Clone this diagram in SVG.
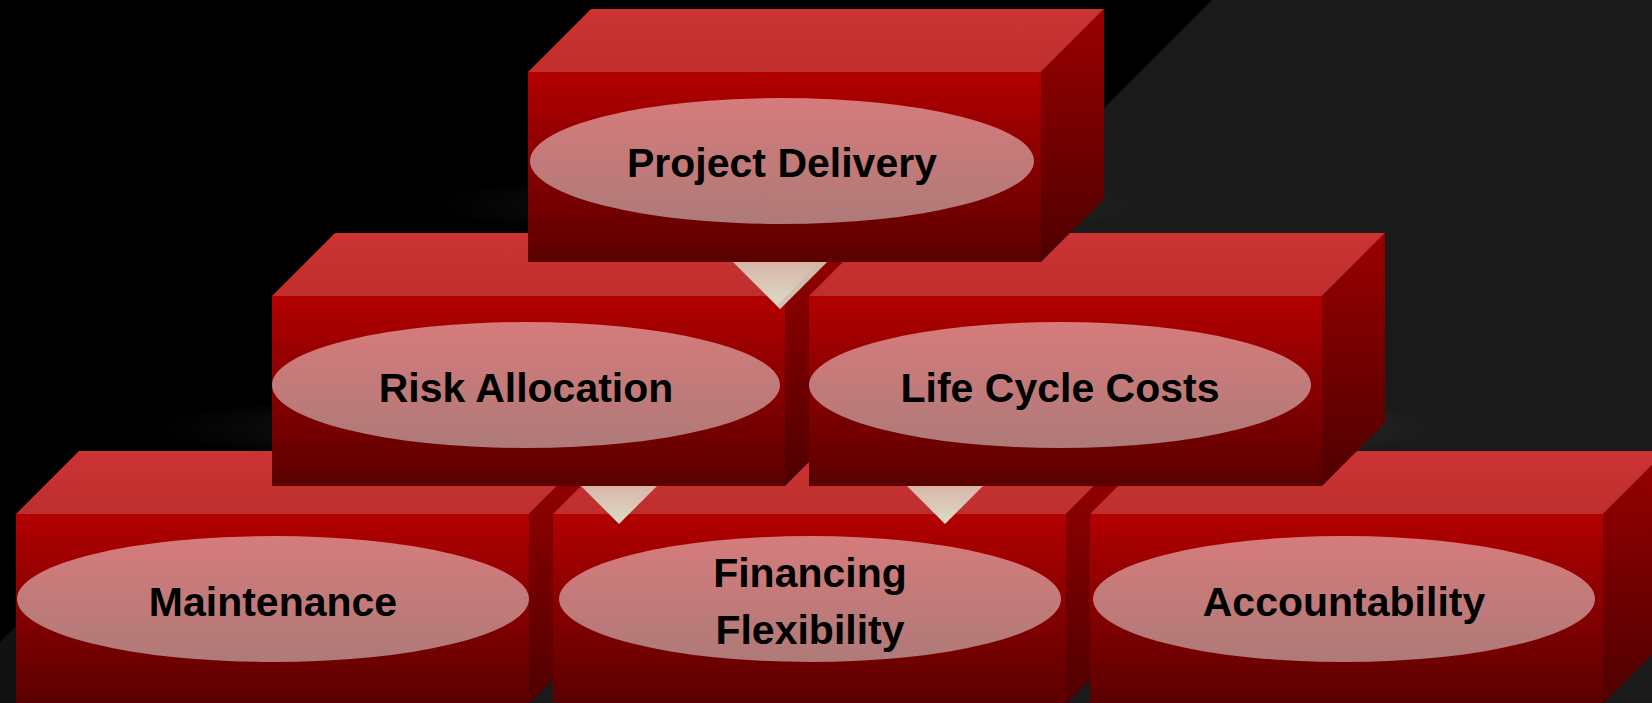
<svg xmlns="http://www.w3.org/2000/svg" width="1652" height="703" viewBox="0 0 1652 703">
<defs>
<linearGradient id="gFront" x1="0" y1="0" x2="0" y2="1">
<stop offset="0" stop-color="#b30000"/>
<stop offset="1" stop-color="#5a0000"/>
</linearGradient>
<linearGradient id="gTop" x1="0" y1="0" x2="0" y2="1">
<stop offset="0" stop-color="#cc3434"/>
<stop offset="1" stop-color="#bf2e2e"/>
</linearGradient>
<linearGradient id="gSide" x1="0" y1="0" x2="0" y2="1">
<stop offset="0" stop-color="#9a0000"/>
<stop offset="1" stop-color="#4e0000"/>
</linearGradient>
<linearGradient id="gOval" x1="0" y1="0" x2="0" y2="1">
<stop offset="0" stop-color="#d67b7b"/>
<stop offset="1" stop-color="#ae7a78"/>
</linearGradient>
<linearGradient id="gTri" x1="0" y1="0" x2="0" y2="1">
<stop offset="0" stop-color="#d8b6a8"/>
<stop offset="1" stop-color="#dcdcc8"/>
</linearGradient>
<radialGradient id="gGlow" cx="0.5" cy="0.5" r="0.5">
<stop offset="0" stop-color="#ffffff" stop-opacity="0.13"/>
<stop offset="1" stop-color="#ffffff" stop-opacity="0"/>
</radialGradient>
</defs>
<style>
.front{fill:url(#gFront);}
.top{fill:url(#gTop);}
.side{fill:url(#gSide);}
.oval{fill:url(#gOval);}
.tri{fill:url(#gTri);}
.triEdge{fill:#c9b8a8;opacity:0.7;}
.glow{fill:url(#gGlow);}
.lbl{font-family:"Liberation Sans",Arial,sans-serif;font-weight:bold;font-size:41px;fill:#000;text-anchor:middle;}
</style>

<g id="background">
<rect x="0" y="0" width="1652" height="703" fill="#000000"/>
<polygon points="1212,0 1652,0 1652,703 509,703" fill="#1a1a1a"/>
<polygon points="0,642 40,602 40,703 0,703" fill="#121212"/>
<ellipse class="glow" cx="790" cy="205" rx="360" ry="36"/>
<ellipse class="glow" cx="530" cy="428" rx="380" ry="36"/>
<ellipse class="glow" cx="1070" cy="428" rx="380" ry="36"/>
</g>

<g id="node-maintenance">
<polygon class="top" points="16,514 79,451 592,451 529,514"/>
<polygon class="side" points="529,514 592,451 592,641 529,704"/>
<rect class="front" x="16" y="514" width="513" height="190"/>
<ellipse class="oval" cx="273" cy="599" rx="256" ry="63"/>
<text class="lbl" x="273" y="616">Maintenance</text>
</g>

<g id="node-financing">
<polygon class="top" points="553,514 616,451 1129,451 1066,514"/>
<polygon class="side" points="1066,514 1129,451 1129,641 1066,704"/>
<rect class="front" x="553" y="514" width="513" height="190"/>
<ellipse class="oval" cx="810" cy="599" rx="251" ry="63"/>
<text class="lbl" x="810" y="587">Financing</text>
<text class="lbl" x="810" y="644">Flexibility</text>
</g>

<g id="node-accountability">
<polygon class="top" points="1090,514 1153,451 1666,451 1603,514"/>
<polygon class="side" points="1603,514 1666,451 1666,641 1603,704"/>
<rect class="front" x="1090" y="514" width="513" height="190"/>
<ellipse class="oval" cx="1344" cy="599" rx="251" ry="63"/>
<text class="lbl" x="1344" y="616">Accountability</text>
</g>

<g id="node-risk-allocation">
<polygon class="top" points="272,296 335,233 848,233 785,296"/>
<polygon class="side" points="785,296 848,233 848,423 785,486"/>
<rect class="front" x="272" y="296" width="513" height="190"/>
<ellipse class="oval" cx="526" cy="385" rx="254" ry="63"/>
<text class="lbl" x="526" y="402">Risk Allocation</text>
</g>

<g id="node-life-cycle-costs">
<polygon class="top" points="809,296 872,233 1385,233 1322,296"/>
<polygon class="side" points="1322,296 1385,233 1385,423 1322,486"/>
<rect class="front" x="809" y="296" width="513" height="190"/>
<ellipse class="oval" cx="1060" cy="385" rx="251" ry="63"/>
<text class="lbl" x="1060" y="402">Life Cycle Costs</text>
</g>

<g id="node-project-delivery">
<polygon class="top" points="528,72 591,9 1104,9 1041,72"/>
<polygon class="side" points="1041,72 1104,9 1104,199 1041,262"/>
<rect class="front" x="528" y="72" width="513" height="190"/>
<ellipse class="oval" cx="782" cy="161" rx="252" ry="63"/>
<text class="lbl" x="782" y="177">Project Delivery</text>
</g>

<g id="connectors">
<polygon class="tri" points="733,262 827,262 780,309"/>
<polygon class="triEdge" points="819,262 827,262 780,309 778,305"/>
<polygon class="tri" points="581,486 657,486 619,524"/>
<polygon class="tri" points="907,486 983,486 945,524"/>
</g>
</svg>
